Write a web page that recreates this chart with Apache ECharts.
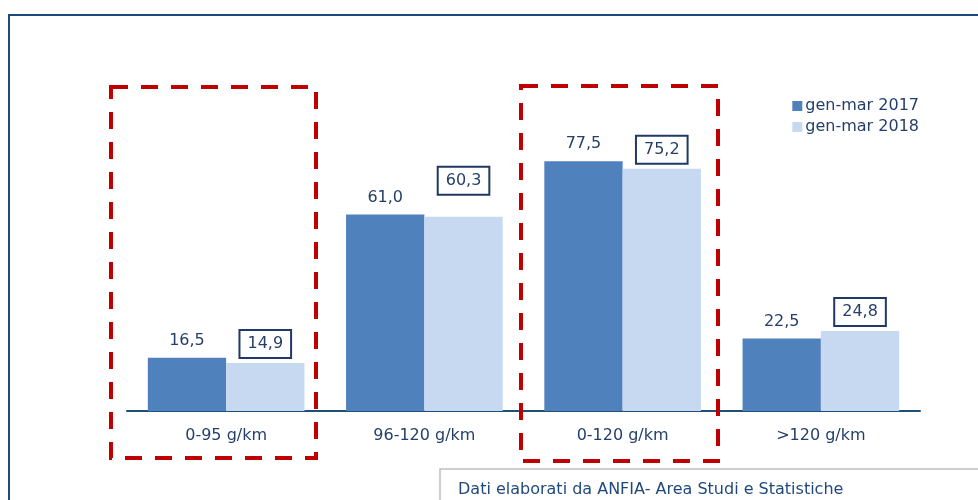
<!DOCTYPE html>
<html>
<head>
<meta charset="utf-8">
<script src="https://cdn.jsdelivr.net/npm/echarts@6/dist/echarts.min.js"></script>
<style>html,body{margin:0;padding:0;background:#fff}#c{width:978px;height:500px}</style>
</head>
<body>
<div id="c"></div>
<script>
const categories = ['0-95 g/km', '96-120 g/km', '0-120 g/km', '>120 g/km'];
const seriesNames = ['gen-mar 2017', 'gen-mar 2018'];
const values2017 = [16.5, 61.0, 77.5, 22.5];
const values2018 = [14.9, 60.3, 75.2, 24.8];
const sourceText = 'Dati elaborati da ANFIA- Area Studi e Statistiche';

const FONT = 'DejaVu Sans';
const TXT = '#243f69';
const fmt = v => v.toFixed(1).replace('.', ',');

const chart = echarts.init(document.getElementById('c'), null, {renderer: 'canvas'});
chart.setOption({
  animation: false,
  textStyle: {fontFamily: FONT},
  grid: {left: 127, right: 58, top: 121, bottom: 89, containLabel: false},
  legend: {
    orient: 'vertical', right: 54, top: 93, itemWidth: 10, itemHeight: 10, itemGap: 5,
    icon: 'rect',
    textStyle: {color: TXT, fontSize: 16, fontFamily: FONT, padding: [0, 0, 0, -2]},
    data: seriesNames
  },
  xAxis: {
    type: 'category', data: categories,
    axisLine: {lineStyle: {color: '#1f4e79', width: 2}},
    axisTick: {show: false},
    axisLabel: {color: TXT, fontSize: 16, fontFamily: FONT, margin: 17}
  },
  yAxis: {type: 'value', min: 0, max: 90, show: false, splitLine: {show: false}},
  series: [
    {
      name: seriesNames[0], type: 'bar', data: values2017, barGap: '0%', barCategoryGap: '21%',
      itemStyle: {color: '#4f81bd'},
      label: {show: true, position: 'top', distance: 9, color: TXT, fontSize: 16, fontFamily: FONT,
        formatter: p => fmt(p.value)}
    },
    {
      name: seriesNames[1], type: 'bar',
      data: values2018.map((v, i) => i === 1 ? {value: v, label: {offset: [0, -17]}} : v),
      itemStyle: {color: '#c6d9f1'},
      label: {show: true, position: 'top', distance: 5, color: TXT, fontSize: 16, fontFamily: FONT,
        borderColor: '#1f3864', borderWidth: 2, padding: [6, 8, 6, 8],
        formatter: p => fmt(p.value)}
    }
  ],
  graphic: [
    {type: 'rect', shape: {x: 9, y: 15, width: 1000, height: 600}, silent: true, z: -1,
      style: {fill: 'none', stroke: '#1f497d', lineWidth: 2}},
    {type: 'rect', shape: {x: 111, y: 87, width: 205, height: 371},
      style: {fill: 'none', stroke: '#c00000', lineWidth: 4, lineDash: [17, 13]}, z: 10},
    {type: 'rect', shape: {x: 521, y: 86, width: 197, height: 375},
      style: {fill: 'none', stroke: '#c00000', lineWidth: 4, lineDash: [17, 13]}, z: 10},
    {type: 'rect', shape: {x: 440, y: 469, width: 600, height: 100},
      style: {fill: '#fff', stroke: '#bfbfbf', lineWidth: 1.5}, z: 11},
    {type: 'text', x: 458, y: 482, z: 12,
      style: {text: sourceText, fill: '#1f497d', font: '16px "DejaVu Sans"'}}
  ]
});
</script>
</body>
</html>
